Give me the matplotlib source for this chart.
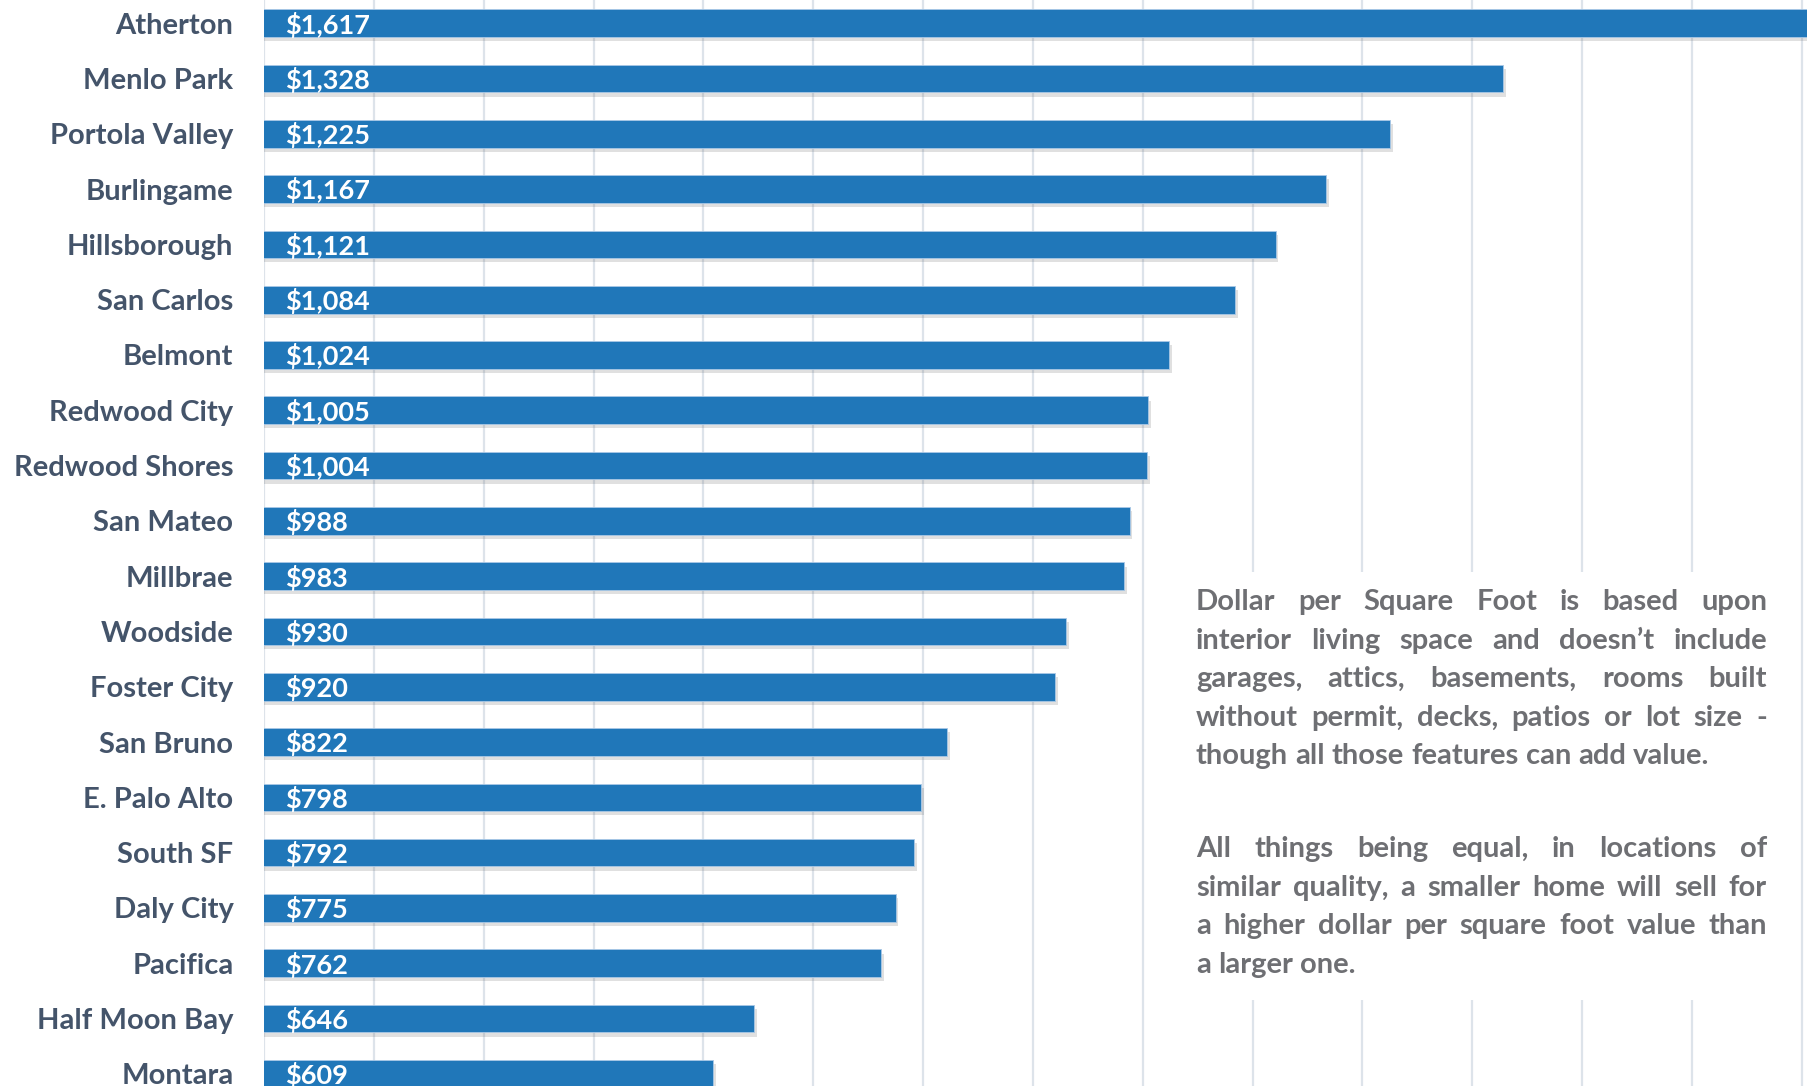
import numpy as np
import matplotlib
matplotlib.use("Agg")
import matplotlib.pyplot as plt
import matplotlib.patheffects as pe
from matplotlib.patches import Rectangle

# data ($ per sq ft)
cities = ["Atherton", "Menlo Park", "Portola Valley", "Burlingame", "Hillsborough",
          "San Carlos", "Belmont", "Redwood City", "Redwood Shores", "San Mateo",
          "Millbrae", "Woodside", "Foster City", "San Bruno", "E. Palo Alto",
          "South SF", "Daly City", "Pacifica", "Half Moon Bay", "Montara"]
price = [1617, 1328, 1225, 1167, 1121, 1084, 1024, 1005, 1004, 988,
         983, 930, 920, 822, 798, 792, 775, 762, 646, 609]

para1 = ["Dollar per Square Foot is based upon",
         "interior living space and doesn’t include",
         "garages, attics, basements, rooms built",
         "without permit, decks, patios or lot size -",
         "though all those features can add value."]
para2 = ["All things being equal, in locations of",
         "similar quality, a smaller home will sell for",
         "a higher dollar per square foot value than",
         "a larger one."]

W, H = 1807, 1086
bar_col = "#2077b9"
label_col = "#44546a"
note_col = "#6e6f73"
note_size = 21
plt.rcParams["font.family"] = ["Lato", "DejaVu Sans"]

fig = plt.figure(figsize=(W / 100, H / 100), dpi=100)
ax = fig.add_axes([264 / W, 0, (W - 264) / W, 1])

y = np.arange(len(cities))
bars = ax.barh(y, price, height=0.5, color=bar_col, edgecolor="#a9c8e6", linewidth=0.6,
               zorder=2)
for b in bars:
    b.set_path_effects([pe.SimplePatchShadow(offset=(2, -3), alpha=0.18, shadow_rgbFace="#555555"),
                        pe.Normal()])

for i, v in enumerate(price):
    ax.annotate(f"${v:,}", xy=(200, i), xytext=(15, -1), textcoords="offset points",
                va="center", ha="left", color="white", fontsize=19.5, fontweight="bold",
                zorder=3)

ax.set_xlim(200, 1604.8)
ax.set_ylim(19.22, -0.42)
ax.set_xticks(np.arange(300, 1601, 100))
ax.set_yticks(y, cities)
ax.tick_params(axis="y", length=0, pad=22, labelsize=21, labelcolor=label_col)
ax.tick_params(axis="x", length=0, labelbottom=False)
for lab in ax.get_yticklabels():
    lab.set_fontweight("bold")
ax.grid(axis="x", color="#dde3ea", linewidth=1.6)
ax.set_axisbelow(True)
for s in ax.spines.values():
    s.set_visible(False)
ax.axvline(200, color="#dde3ea", linewidth=1.6, zorder=0.5)

# white box behind the note, hiding the grid
ax.add_patch(Rectangle((1170 / W, 1 - 1000 / H), 620 / W, 428 / H, transform=fig.transFigure,
                       facecolor="white", edgecolor="none", zorder=1.5, clip_on=False))

# justified note text
fig.canvas.draw()
renderer = fig.canvas.get_renderer()
x_left, x_right = 1196, 1767


def text_width(s):
    t = fig.text(0, 0, s, fontsize=note_size, fontweight="bold")
    w = t.get_window_extent(renderer).width
    t.remove()
    return w


space_w = text_width("a a") - 2 * text_width("a")


def put_line(line, base, justify):
    words = line.split(" ")
    texts = [fig.text(0, 0, w, fontsize=note_size, fontweight="bold", color=note_col,
                      va="baseline", ha="left", zorder=4) for w in words]
    widths = [t.get_window_extent(renderer).width for t in texts]
    gap = space_w
    if justify and len(words) > 1:
        gap = (x_right - x_left - sum(widths)) / (len(words) - 1)
    x = x_left
    for t, w in zip(texts, widths):
        t.set_position((x / W, 1 - base / H))
        x += w + gap


for k, line in enumerate(para1):
    put_line(line, 610 + k * 38.6, k < len(para1) - 1)
for k, line in enumerate(para2):
    put_line(line, 857 + k * 38.6, k < len(para2) - 1)

fig.savefig("out.png", dpi=100)
